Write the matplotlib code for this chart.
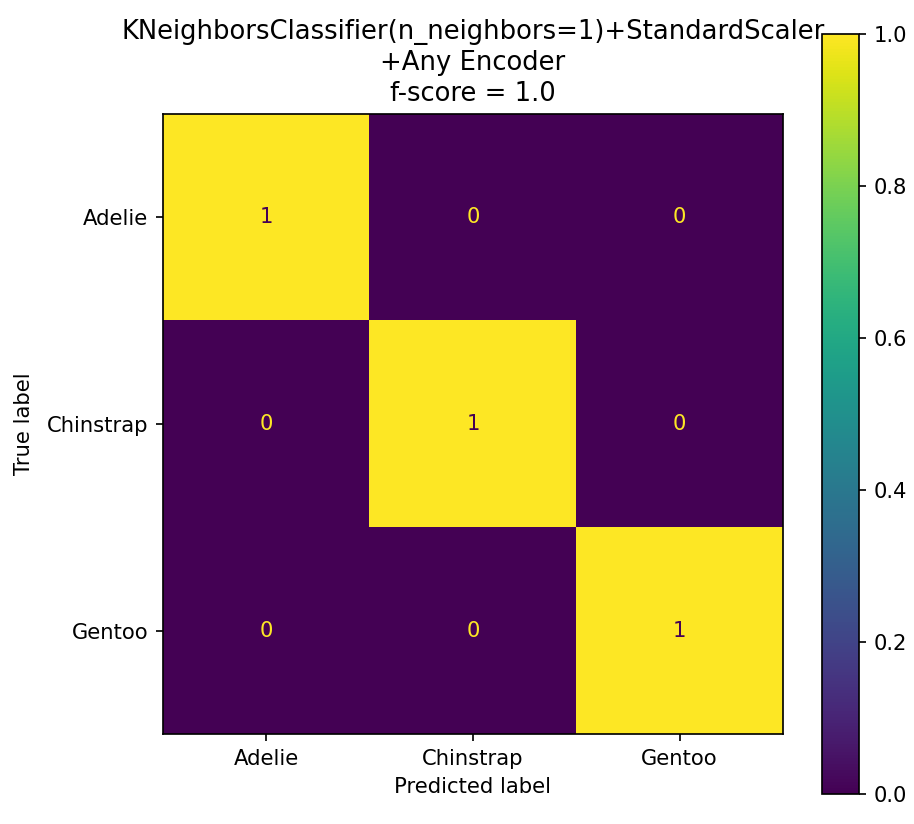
import numpy as np
import matplotlib
matplotlib.use("Agg")
import matplotlib.pyplot as plt

classes = ["Adelie", "Chinstrap", "Gentoo"]
cm = np.array([[1, 0, 0],
               [0, 1, 0],
               [0, 0, 1]])
title = "KNeighborsClassifier(n_neighbors=1)+StandardScaler\n+Any Encoder\nf-score = 1.0"
cbar_ticks = [0.0, 0.2, 0.4, 0.6, 0.8, 1.0]

DPI = 152.5
fig = plt.figure(figsize=(914 / DPI, 824 / DPI), dpi=DPI)
ax = fig.add_axes([162 / 914, 1 - 734 / 824, 622 / 914, 620 / 824])
cax = fig.add_axes([822 / 914, 1 - 794 / 824, 37 / 914, 760 / 824])

cmap = plt.get_cmap("viridis")
im = ax.imshow(cm, cmap=cmap, vmin=0, vmax=1, interpolation="nearest")
for i in range(cm.shape[0]):
    for j in range(cm.shape[1]):
        color = cmap(0.0) if cm[i, j] > 0.5 else cmap(1.0)
        ax.text(j, i, str(cm[i, j]), ha="center", va="center", color=color)

ax.set_xticks(range(len(classes)))
ax.set_xticklabels(classes)
ax.set_yticks(range(len(classes)))
ax.set_yticklabels(classes)
ax.set_xlabel("Predicted label")
ax.set_ylabel("True label", labelpad=6)
ax.set_title(title, fontsize=12.2, linespacing=1.25)

cb = fig.colorbar(im, cax=cax)
cb.set_ticks(cbar_ticks)

fig.savefig("out.png", dpi=DPI)
